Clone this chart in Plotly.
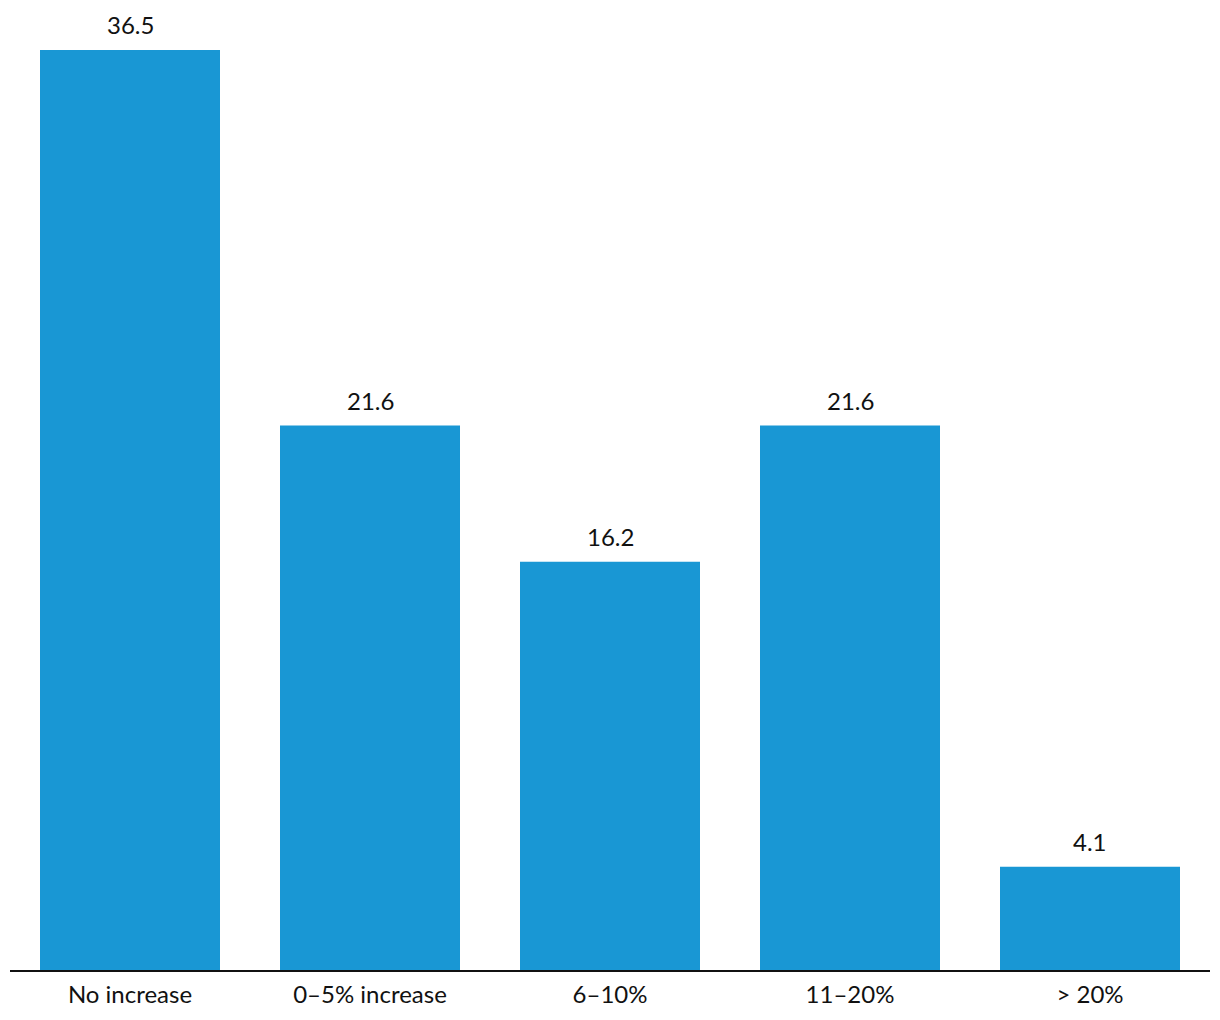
import plotly.graph_objects as go

categories = ["No increase", "0–5% increase", "6–10%", "11–20%", "> 20%"]
values = [36.5, 21.6, 16.2, 21.6, 4.1]
labels = ["36.5", "21.6", "16.2", "21.6", "4.1"]

fig = go.Figure(go.Bar(
    x=categories, y=values,
    marker=dict(color="#1997D4", line=dict(width=0)),
))
for c, v, t in zip(categories, values, labels):
    fig.add_annotation(x=c, y=v, text=t, showarrow=False, yanchor="bottom",
                       yshift=9, font=dict(family="Lato", size=24, color="#111111"))
fig.update_layout(
    width=1220, height=1020,
    margin=dict(l=10, r=10, t=10, b=50),
    paper_bgcolor="white", plot_bgcolor="white",
    bargap=0.25,
    showlegend=False,
    font=dict(family="Lato", size=24, color="#111111"),
    xaxis=dict(showline=True, linecolor="#111111", linewidth=2, ticks="",
               tickfont=dict(family="Lato", size=24, color="#111111"),
               ticklabelstandoff=2,
               showgrid=False, zeroline=False),
    yaxis=dict(visible=False, range=[0, 38.09], showgrid=False, zeroline=False),
)
fig.write_html("out.html")
